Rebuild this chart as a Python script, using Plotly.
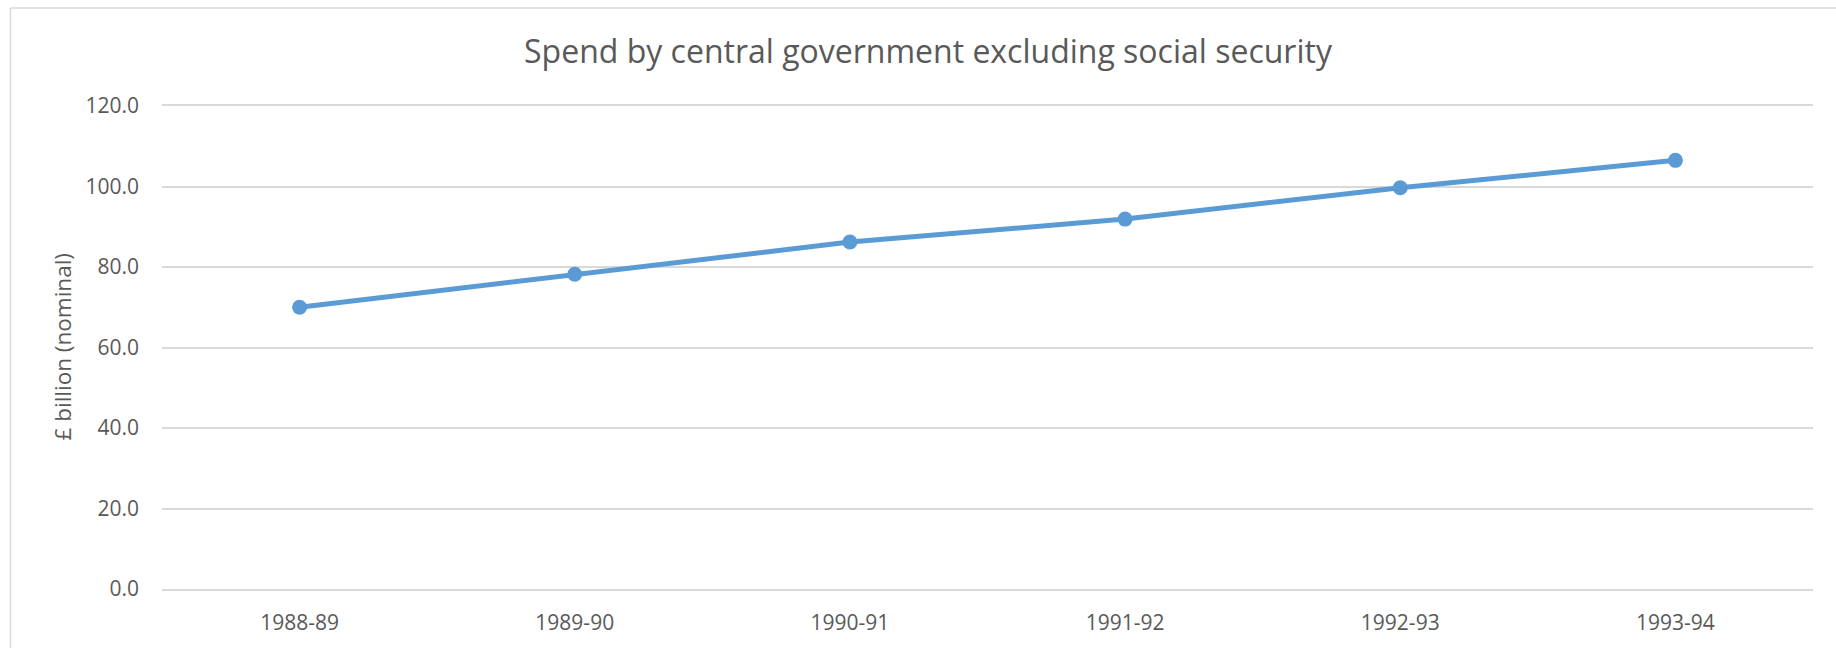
import plotly.graph_objects as go

# Financial years and spend (£ billion, nominal)
years = ["1988-89", "1989-90", "1990-91", "1991-92", "1992-93", "1993-94"]
spend = [70.0, 78.2, 86.2, 91.9, 99.7, 106.5]

y_ticks = [0, 20, 40, 60, 80, 100, 120]

W, H = 1836, 648
L, R, T, B = 162, 23, 106, 57
plot_w = W - L - R
plot_h = H - T - B

TEXT = "#595959"
GRID = "#D9D9D9"
BLUE = "#5B9BD5"
FONT = "Open Sans"

fig = go.Figure()
fig.add_trace(go.Scatter(
    x=years,
    y=spend,
    mode="lines+markers",
    line=dict(color=BLUE, width=5),
    marker=dict(color=BLUE, size=15),
    hoverinfo="x+y",
))

fig.update_layout(
    width=W,
    height=H,
    margin=dict(l=L, r=R, t=T, b=B),
    paper_bgcolor="white",
    plot_bgcolor="white",
    showlegend=False,
    font=dict(family=FONT, color=TEXT, size=21),
    title=dict(
        text="Spend by central government excluding social security",
        font=dict(family=FONT, size=32, color=TEXT),
        xref="container", x=928 / W, xanchor="center",
        yref="container", y=1 - 52 / H, yanchor="middle",
    ),
)

# Category axis; its line (mirrored) also draws the 0 and 120 gridlines
fig.update_xaxes(
    type="category",
    range=[-0.5, len(years) - 0.5],
    showgrid=False,
    zeroline=False,
    showline=True,
    linecolor=GRID,
    linewidth=1.5,
    mirror=True,
    ticks="",
    tickfont=dict(family=FONT, size=21, color=TEXT),
    ticklabelstandoff=14,
)

fig.update_yaxes(
    range=[0, 120],
    tickvals=y_ticks,
    tickformat=".1f",
    showgrid=True,
    gridcolor=GRID,
    gridwidth=1.5,
    zeroline=False,
    showline=False,
    ticks="",
    tickfont=dict(family=FONT, size=21, color=TEXT),
    ticklabelstandoff=22,
)

# Axis title placed beside the tick labels
fig.add_annotation(
    text="£ billion (nominal)",
    textangle=-90,
    xref="paper", yref="paper",
    x=(62 - L) / plot_w, y=0.5,
    xanchor="center", yanchor="middle",
    showarrow=False,
    font=dict(family=FONT, size=22.5, color=TEXT),
)

# Chart-area frame: top and left edges
top_y = (T + plot_h - 7.5) / plot_h
left_x = (10.5 - L) / plot_w
fig.add_shape(
    type="line", xref="paper", yref="paper",
    x0=left_x, x1=(W + 5 - L) / plot_w, y0=top_y, y1=top_y,
    line=dict(color=GRID, width=1.5), layer="below",
)
fig.add_shape(
    type="line", xref="paper", yref="paper",
    x0=left_x, x1=left_x, y0=top_y, y1=-(B + 5) / plot_h,
    line=dict(color=GRID, width=1.5), layer="below",
)

fig.write_html("out.html")
